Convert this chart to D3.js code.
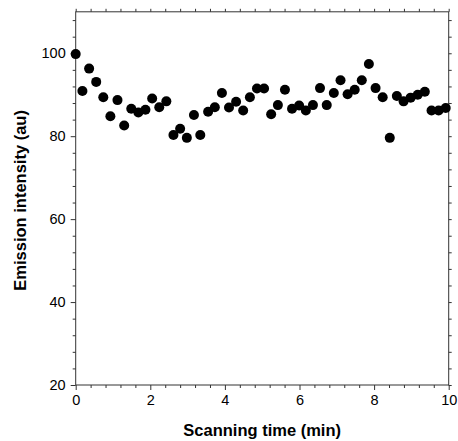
<!DOCTYPE html>
<html>
<head>
<meta charset="utf-8">
<script src="https://cdn.jsdelivr.net/npm/d3@7"></script>
<style>
  html, body { margin: 0; padding: 0; background: #fff; }
  svg { display: block; }
</style>
</head>
<body>
<script>
// Scanning time (min)
const times = [0.00, 0.18, 0.36, 0.55, 0.74, 0.93, 1.12, 1.30, 1.49, 1.68,
               1.87, 2.05, 2.24, 2.43, 2.62, 2.80, 2.98, 3.17, 3.34, 3.55,
               3.73, 3.92, 4.11, 4.30, 4.49, 4.67, 4.86, 5.05, 5.24, 5.42,
               5.61, 5.80, 5.99, 6.17, 6.36, 6.55, 6.73, 6.92, 7.10, 7.29,
               7.48, 7.67, 7.86, 8.04, 8.23, 8.42, 8.61, 8.79, 8.98, 9.17,
               9.36, 9.54, 9.73, 9.92];
// Emission intensity (au)
const intensity = [99.8, 90.9, 96.3, 93.1, 89.4, 84.8, 88.7, 82.6, 86.6, 85.7,
                   86.4, 89.1, 87.0, 88.4, 80.3, 81.8, 79.6, 85.1, 80.3, 85.9,
                   87.0, 90.4, 86.9, 88.3, 86.2, 89.4, 91.5, 91.5, 85.3, 87.5,
                   91.2, 86.6, 87.4, 86.2, 87.5, 91.6, 87.5, 90.4, 93.5, 90.1,
                   91.2, 93.5, 97.4, 91.6, 89.4, 79.6, 89.7, 88.4, 89.3, 90.0,
                   90.7, 86.2, 86.2, 86.8];
const xTicks = [0, 2, 4, 6, 8, 10];
const yTicks = [20, 40, 60, 80, 100];
const xTitle = "Scanning time (min)";
const yTitle = "Emission intensity (au)";

const W = 458, H = 441;
const pL = 75.7, pR = 448.7, pT = 11.8, pB = 385;

const x = d3.scaleLinear().domain([0, 10]).range([pL, pR]);
const y = d3.scaleLinear().domain([20, 110]).range([pB, pT]);

const svg = d3.select("body").append("svg").attr("width", W).attr("height", H);

const axisColor = "#333";
const font = "Arial, 'Liberation Sans', sans-serif";

function styleAxis(g) {
  g.select(".domain").remove();
  g.selectAll("line").attr("stroke", axisColor).attr("stroke-width", 1);
  g.selectAll("text").attr("fill", "#000").style("font-family", font).style("font-size", "14.5px");
}

const xMinor = d3.range(0, 10.001, 0.4).map(v => +v.toFixed(2)).filter(v => !xTicks.some(t => Math.abs(t - v) < 1e-6));
const yMinor = d3.range(20, 108.001, 4).filter(v => !yTicks.includes(v));

// bottom axis
svg.append("g").attr("transform", `translate(0,${pB})`)
  .call(d3.axisBottom(x).tickValues(xTicks).tickSize(5).tickPadding(5).tickFormat(d3.format("d")))
  .call(styleAxis);
svg.append("g").attr("transform", `translate(0,${pB})`)
  .call(d3.axisBottom(x).tickValues(xMinor).tickSize(3).tickFormat(""))
  .call(styleAxis);
// top axis
svg.append("g").attr("transform", `translate(0,${pT})`)
  .call(d3.axisTop(x).tickValues(xTicks.concat(xMinor)).tickSize(3).tickFormat(""))
  .call(styleAxis);
// left axis
svg.append("g").attr("transform", `translate(${pL},0)`)
  .call(d3.axisLeft(y).tickValues(yTicks).tickSize(5).tickPadding(5).tickFormat(d3.format("d")))
  .call(styleAxis);
svg.append("g").attr("transform", `translate(${pL},0)`)
  .call(d3.axisLeft(y).tickValues(yMinor).tickSize(3).tickFormat(""))
  .call(styleAxis);
// right axis
svg.append("g").attr("transform", `translate(${pR},0)`)
  .call(d3.axisRight(y).tickValues(yTicks.concat(yMinor)).tickSize(3).tickFormat(""))
  .call(styleAxis);

// frame
svg.append("rect")
  .attr("x", pL).attr("y", pT)
  .attr("width", pR - pL).attr("height", pB - pT)
  .attr("fill", "none").attr("stroke", axisColor).attr("stroke-width", 1);

// points
svg.append("g").selectAll("circle")
  .data(times.map((t, i) => ({ t, v: intensity[i] })))
  .join("circle")
  .attr("cx", d => x(d.t))
  .attr("cy", d => y(d.v))
  .attr("r", 5)
  .attr("fill", "#000");

// titles
svg.append("text")
  .attr("x", (pL + pR) / 2).attr("y", 436)
  .attr("text-anchor", "middle")
  .style("font-family", font).style("font-weight", "bold").style("font-size", "16.5px")
  .text(xTitle);
svg.append("text")
  .attr("transform", `translate(26,${(pT + pB) / 2 + 2}) rotate(-90)`)
  .attr("text-anchor", "middle")
  .style("font-family", font).style("font-weight", "bold").style("font-size", "16.5px")
  .text(yTitle);
</script>
</body>
</html>
